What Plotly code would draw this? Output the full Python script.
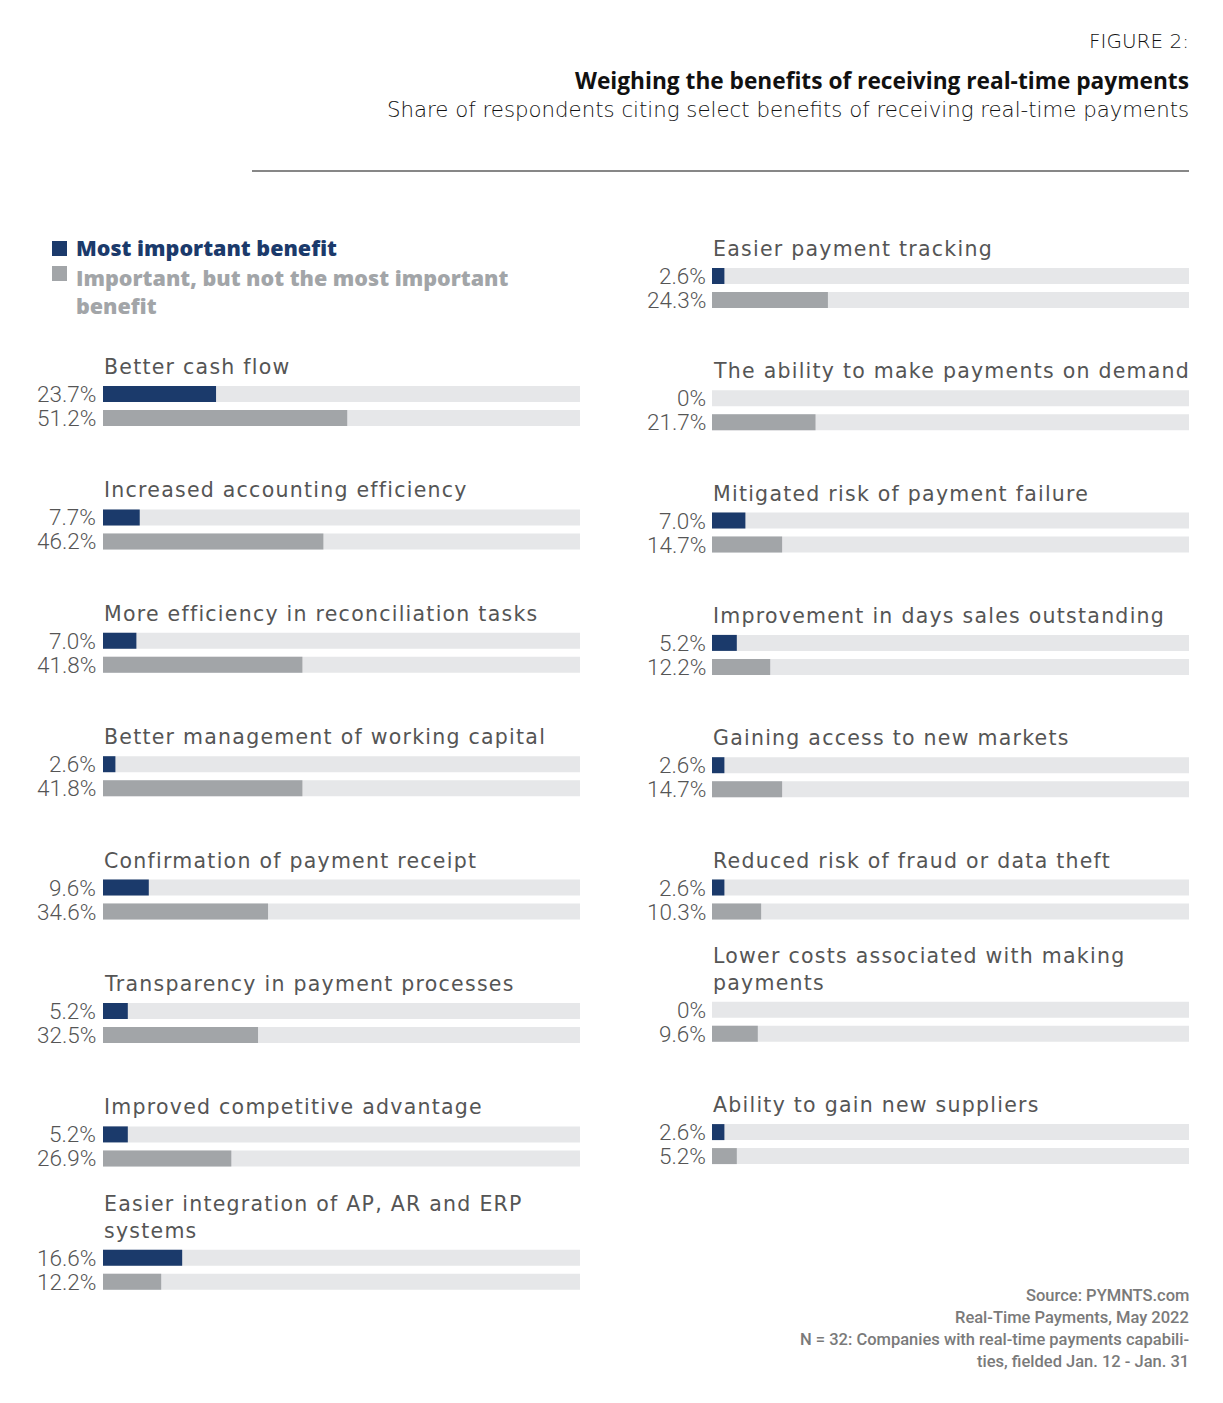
import plotly.graph_objects as go

# data
left_labels = ["Better cash flow", "Increased accounting efficiency",
               "More efficiency in reconciliation tasks", "Better management of working capital",
               "Confirmation of payment receipt", "Transparency in payment processes",
               "Improved competitive advantage", "Easier integration of AP, AR and ERP<br>systems"]
left_most = [23.7, 7.7, 7.0, 2.6, 9.6, 5.2, 5.2, 16.6]
left_imp = [51.2, 46.2, 41.8, 41.8, 34.6, 32.5, 26.9, 12.2]

right_labels = ["Easier payment tracking", "The ability to make payments on demand",
                "Mitigated risk of payment failure", "Improvement in days sales outstanding",
                "Gaining access to new markets", "Reduced risk of fraud or data theft",
                "Lower costs associated with making<br>payments", "Ability to gain new suppliers"]
right_most = [2.6, 0.0, 7.0, 5.2, 2.6, 2.6, 0.0, 2.6]
right_imp = [24.3, 21.7, 14.7, 12.2, 14.7, 10.3, 9.6, 5.2]

NAVY = "#1b3a6b"
GREY = "#a2a5a8"
TRACK = "#e6e7e9"
TXT = "#555555"
W, H = 1223, 1403


def px(x):
    return x / W


def fmt(v):
    return "0%" if v == 0 else f"{v:.1f}%"


fig = go.Figure()
ann = []

columns = [
    # labels, most, imp, xaxis, first bar centre, row step, label x, title x
    (left_labels, left_most, left_imp, "x", 394, 123.4, 98, 102),
    (right_labels, right_most, right_imp, "x2", 276, 122.3, 708, 711),
]

for labels, most, imp, xa, y0, step, lx, tx in columns:
    ym = [y0 + i * step for i in range(len(labels))]
    yi = [y + 24 for y in ym]
    fig.add_trace(go.Bar(x=[100] * (2 * len(labels)), y=ym + yi, orientation="h",
                         width=16, marker=dict(color=TRACK, line_width=0),
                         xaxis=xa, yaxis="y", hoverinfo="skip"))
    fig.add_trace(go.Bar(x=most, y=ym, orientation="h", width=16,
                         marker=dict(color=NAVY, line_width=0),
                         xaxis=xa, yaxis="y", hoverinfo="skip"))
    fig.add_trace(go.Bar(x=imp, y=yi, orientation="h", width=16,
                         marker=dict(color=GREY, line_width=0),
                         xaxis=xa, yaxis="y", hoverinfo="skip"))
    for lab, a, b, y1, y2 in zip(labels, most, imp, ym, yi):
        ann.append(dict(x=px(tx), y=y1 - 13, text=lab, xanchor="left", yanchor="bottom",
                        align="left",
                        font=dict(family="DejaVu Sans", size=20.5, color=TXT)))
        for v, yy in ((a, y1), (b, y2)):
            ann.append(dict(x=px(lx), y=yy, text=fmt(v), xanchor="right", yanchor="middle",
                            font=dict(family="Roboto", size=22.5, color=TXT, weight=300)))

# header
ann += [
    dict(x=px(1191), y=41, text="FIGURE 2:", xanchor="right", yanchor="middle",
         font=dict(family="DejaVu Sans", size=20, color="#111111", weight=200)),
    dict(x=px(1191), y=80, text="<b>Weighing the benefits of receiving real-time payments</b>",
         xanchor="right", yanchor="middle",
         font=dict(family="Open Sans", size=22.7, color="#111111")),
    dict(x=px(1191), y=109, text="Share of respondents citing select benefits of receiving real-time payments",
         xanchor="right", yanchor="middle",
         font=dict(family="DejaVu Sans", size=21.3, color="#111111", weight=200)),
]

# legend
legend_font = dict(family="Open Sans", size=21.5, weight=800)
ann += [
    dict(x=px(74), y=247, text="Most important benefit", xanchor="left", yanchor="middle",
         font=dict(color=NAVY, **legend_font)),
    dict(x=px(74), y=261, text="Important, but not the most important<br>benefit",
         xanchor="left", yanchor="top", align="left",
         font=dict(color=GREY, **legend_font)),
]

# source
source_lines = ["Source: PYMNTS.com", "Real-Time Payments, May 2022",
                "N = 32: Companies with real-time payments capabili-",
                "ties, fielded Jan. 12 - Jan. 31"]
for i, s in enumerate(source_lines):
    ann.append(dict(x=px(1191), y=1295 + 22 * i, text=s, xanchor="right", yanchor="middle",
                    font=dict(family="Roboto", size=16.5, color="#7a7a7a", weight=500)))

for a in ann:
    a.update(xref="paper", yref="y", showarrow=False)

shapes = [
    dict(type="line", xref="paper", yref="y", x0=px(252), x1=px(1189), y0=171, y1=171,
         line=dict(color="#111111", width=1.2)),
    dict(type="rect", xref="paper", yref="y", x0=px(52), x1=px(67), y0=241, y1=256,
         fillcolor=NAVY, line_width=0),
    dict(type="rect", xref="paper", yref="y", x0=px(52), x1=px(67), y0=266, y1=281,
         fillcolor=GREY, line_width=0),
]

hidden = dict(visible=False, fixedrange=True)
fig.update_layout(
    width=W, height=H, autosize=False,
    margin=dict(l=0, r=0, t=0, b=0),
    paper_bgcolor="white", plot_bgcolor="rgba(0,0,0,0)",
    barmode="overlay", showlegend=False,
    xaxis=dict(domain=[px(103), px(580)], range=[0, 100], **hidden),
    xaxis2=dict(domain=[px(712), px(1189)], range=[0, 100], **hidden),
    yaxis=dict(domain=[0, 1], range=[H, 0], **hidden),
    annotations=ann, shapes=shapes,
)

# body margin off, and the letter-spaced look of the category labels
js = """
document.body.style.margin='0';
document.querySelectorAll('.annotation-text').forEach(function(t){
  if ((t.style.fontFamily || '').indexOf('DejaVu') >= 0 && t.style.fontWeight !== '200') {
    t.style.letterSpacing = '1.25px';
  }
});
"""
fig.write_html("out.html", post_script=js, config={"displayModeBar": False})
